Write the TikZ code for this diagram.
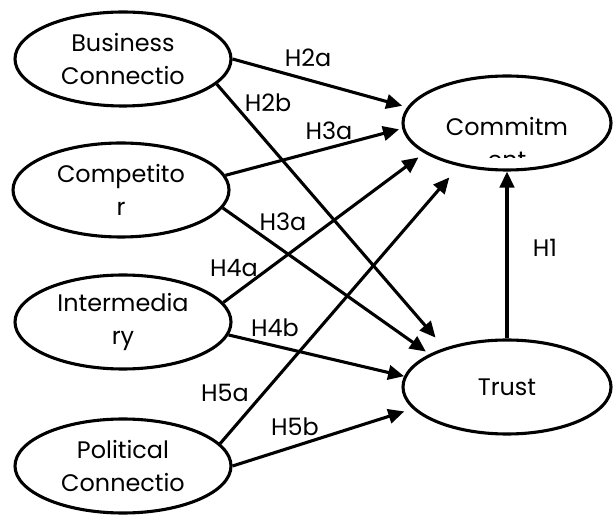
\documentclass[tikz,border=0pt]{standalone}
\usepackage{fontspec}
\setmainfont{Poppins}
\usepackage{tikz}
\usetikzlibrary{arrows.meta,shapes,positioning,calc}

\begin{document}
\begin{tikzpicture}[
    construct/.style={draw, ellipse, line width=2.2pt, minimum width=5.4cm, minimum height=2.35cm, inner sep=0pt, align=center, font=\fontsize{17}{23.5}\selectfont},
    outcome/.style={construct, minimum width=5.2cm},
    hyp/.style={font=\fontsize{17}{20}\selectfont, inner sep=0pt},
    arrow/.style={-{Triangle[length=0.4cm,width=0.36cm]}, line width=2.2pt}
]
\useasboundingbox (0,0) rectangle (15.325,12.9);

% antecedents
\node[construct] (bc) at (3.075,11.425) {Business\\Connectio};
\node[construct] (cp) at (3.025,8.15) {Competito\\r};
\node[construct] (im) at (3.075,4.85) {Intermedia\\ry};
\node[construct] (pc) at (3.075,1.25) {Political\\Connectio};

% outcomes
\node[outcome] (cm) at (12.675,9.825) {};
\node[outcome] (tr) at (12.675,3.225) {Trust};
\begin{scope}
  \clip (10,8.95) rectangle (15.3,11.1);
  \node[construct, draw=none, minimum width=0pt, minimum height=0pt] (cmtxt) at ([yshift=-0.5cm]cm.center) {Commitm\\ent};
\end{scope}

% paths
\draw[arrow, shorten >=0.13cm] (bc.0) -- (cm.171);
\draw[arrow, shorten >=0.34cm] (bc.-15) -- (tr.148);
\draw[arrow, shorten >=0.08cm] (cp.8) -- (cm.183);
\draw[arrow, shorten >=0.11cm] (cp.-10) -- (tr.157);
\draw[arrow, shorten >=0.18cm] (im.11) -- (cm.200);
\draw[arrow] (im.-7) -- (tr.174);
\draw[arrow, shorten >=0.37cm] (pc.13) -- (cm.222);
\draw[arrow, shorten >=0.22cm] (pc.0) -- (tr.193);
\draw[arrow] (tr.north) -- (cm.south);

% hypotheses
\node[hyp] (h2a) at (7.7,11.45) {H2a};
\node[hyp] (h2b) at (6.7,10.325) {H2b};
\node[hyp] (h3a) at (8.225,9.625) {H3a};
\node[hyp] (h3b) at (7.075,7.35) {H3a};
\node[hyp] (h4a) at (5.85,6.2) {H4a};
\node[hyp] (h4b) at (6.875,4.7) {H4b};
\node[hyp] (h5a) at (5.625,3.075) {H5a};
\node[hyp] (h5b) at (7.375,2.225) {H5b};
\node[hyp] (h1) at (13.625,6.7) {H1};

\end{tikzpicture}
\end{document}
